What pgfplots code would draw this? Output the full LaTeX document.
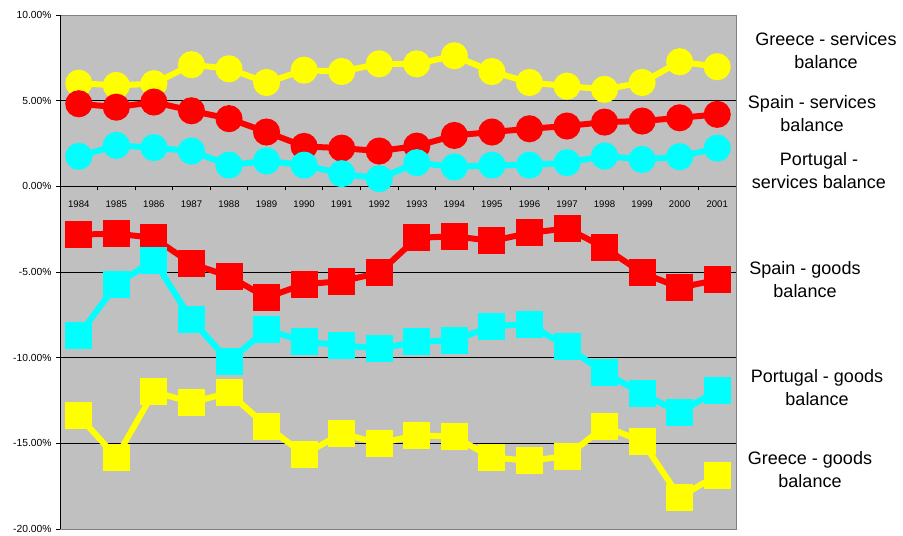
\documentclass[border=0pt]{standalone}
\usepackage{fontspec}
\setmainfont{Liberation Sans}
\usepackage{pgfplots}
\pgfplotsset{compat=1.18}

\definecolor{plotbg}{RGB}{192,192,192}
\definecolor{frame}{RGB}{128,128,128}
\definecolor{grc}{RGB}{255,255,0}
\definecolor{spc}{RGB}{255,0,0}
\definecolor{ptc}{RGB}{0,255,255}

\pgfplotsset{
  series/.style={#1, line width=6bp, mark size=10.5bp, mark options={draw=none, fill=#1}},
}

\begin{document}
\begin{tikzpicture}
\path[use as bounding box] (0,0) rectangle (903bp,-536bp);
\begin{axis}[
  at={(60bp,-529bp)}, anchor=south west,
  scale only axis, width=676bp, height=514bp,
  xmin=-0.5, xmax=17.5, ymin=-20, ymax=10,
  axis x line=middle, axis y line=left,
  axis line style={-, black, line width=0.8bp},
  axis background/.style={fill=plotbg, draw=frame, line width=1bp},
  hide obscured x ticks=false, hide obscured y ticks=false,
  tick align=outside,
  xtick={0,...,17},
  xticklabels={1984,1985,1986,1987,1988,1989,1990,1991,1992,1993,1994,1995,1996,1997,1998,1999,2000,2001},
  major x tick style={draw=none},
  minor xtick={0.5,1.5,...,16.5},
  minor x tick style={black, line width=0.8bp},
  minor tick length=4bp,
  xticklabel style={font=\fontsize{9.6bp}{11bp}\selectfont, yshift=-7bp},
  ytick={-20,-15,-10,-5,0,5,10},
  yticklabels={-20.00\%,-15.00\%,-10.00\%,-5.00\%,0.00\%,5.00\%,10.00\%},
  major tick length=4bp,
  ytick style={black, line width=0.8bp},
  yticklabel style={font=\fontsize{10.3bp}{12bp}\selectfont, xshift=-1bp},
  extra y ticks={-15,-10,-5,5},
  extra y tick labels={},
  extra y tick style={grid=major, major tick length=0pt},
  major grid style={black, line width=0.7bp},
  clip=false,
]
% Greece - services balance
\addplot[series=grc, mark=*] coordinates {
 (0,6.02) (1,5.89) (2,5.99) (3,7.10) (4,6.86) (5,6.06) (6,6.78) (7,6.70) (8,7.15)
 (9,7.15) (10,7.62) (11,6.70) (12,6.06) (13,5.85) (14,5.66) (15,6.06) (16,7.27) (17,6.98)};
% Spain - services balance
\addplot[series=spc, mark=*] coordinates {
 (0,4.82) (1,4.62) (2,4.92) (3,4.41) (4,3.95) (5,3.17) (6,2.33) (7,2.23) (8,2.06)
 (9,2.35) (10,2.97) (11,3.17) (12,3.36) (13,3.52) (14,3.75) (15,3.81) (16,4.00) (17,4.20)};
% Portugal - services balance
\addplot[series=ptc, mark=*] coordinates {
 (0,1.75) (1,2.39) (2,2.26) (3,2.06) (4,1.24) (5,1.48) (6,1.24) (7,0.74) (8,0.45)
 (9,1.38) (10,1.13) (11,1.24) (12,1.24) (13,1.38) (14,1.77) (15,1.57) (16,1.73) (17,2.23)};
% Greece - goods balance
\addplot[series=grc, mark=square*] coordinates {
 (0,-13.39) (1,-15.82) (2,-11.99) (3,-12.61) (4,-12.05) (5,-13.99) (6,-15.65) (7,-14.42) (8,-15.01)
 (9,-14.52) (10,-14.62) (11,-15.82) (12,-16.02) (13,-15.74) (14,-14.03) (15,-14.87) (16,-18.15) (17,-16.85)};
% Spain - goods balance
\addplot[series=spc, mark=square*] coordinates {
 (0,-2.82) (1,-2.76) (2,-3.01) (3,-4.51) (4,-5.25) (5,-6.49) (6,-5.71) (7,-5.54) (8,-5.05)
 (9,-3.01) (10,-2.91) (11,-3.19) (12,-2.72) (13,-2.45) (14,-3.58) (15,-5.05) (16,-5.91) (17,-5.46)};
% Portugal - goods balance
\addplot[series=ptc, mark=square*] coordinates {
 (0,-8.69) (1,-5.73) (2,-4.31) (3,-7.77) (4,-10.22) (5,-8.34) (6,-9.08) (7,-9.27) (8,-9.47)
 (9,-9.08) (10,-8.98) (11,-8.16) (12,-8.05) (13,-9.37) (14,-10.88) (15,-12.09) (16,-13.20) (17,-11.90)};
\end{axis}
% series names at the right of the plot area
\begin{scope}[every node/.style={align=center, font=\fontsize{18bp}{23bp}\selectfont, inner sep=0pt}]
\node at (826bp,-50.5bp) {Greece - services\\balance};
\node at (812bp,-114bp) {Spain - services\\balance};
\node at (819bp,-171bp) {Portugal -\\services balance};
\node at (805bp,-279.5bp) {Spain - goods\\balance};
\node at (817bp,-388bp) {Portugal - goods\\balance};
\node at (810bp,-469.5bp) {Greece - goods\\balance};
\end{scope}
\end{tikzpicture}
\end{document}
